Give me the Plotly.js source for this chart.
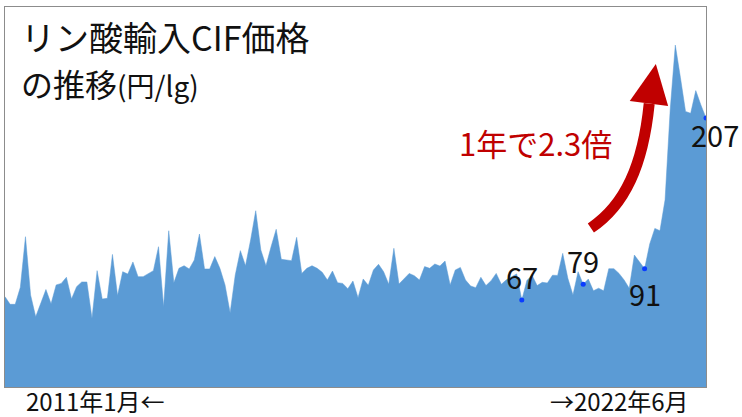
<!DOCTYPE html>
<html><head><meta charset="utf-8">
<script src="https://cdn.plot.ly/plotly-3.0.1.min.js"></script>
<style>html,body{margin:0;padding:0;background:#fff}#chart{width:742px;height:417px}</style>
</head><body><div id="chart"></div>
<script>
// Monthly CIF price of imported phosphoric acid, Jan 2011 .. Jun 2022 (yen/kg)
const prices = [
  69.5, 63.6, 63.6, 76.7, 115.6, 70.8, 54, 64, 75, 64, 78.5, 79.7,        // 2011
  84.4, 67.7, 77.2, 80.8, 80.8, 52.8, 89.5, 67.7, 68.2, 102, 70.3, 88.7,   // 2012
  86.9, 96.2, 84.9, 84.9, 86.9, 89.5, 107.9, 61.8, 120.2, 80.2, 91.3, 93.3, // 2013
  90.8, 97.7, 117.7, 90.8, 90.8, 100.3, 91.3, 78.5, 57.2, 86.2, 104.9, 93.3, // 2014
  113.1, 135.6, 105.4, 93.3, 107.9, 121.3, 98.2, 97.7, 97.2, 115.1, 87.4, 91.3, // 2015
  93.3, 91.3, 88.2, 82.3, 89.2, 80.2, 79.7, 75.6, 81.5, 68.7, 83.1, 78.2,  // 2016
  90, 94.4, 88.7, 79, 106.7, 79.2, 83.1, 87.4, 85.6, 82.3, 92.6, 91.3,     // 2017
  94.6, 93.1, 96.9, 78.5, 90, 92, 82.3, 77.7, 76.4, 84.4, 78, 81.8,        // 2018
  87.4, 79, 82.5, 85, 87, 67, 82, 86, 78, 80.5, 80, 86,                    // 2019
  85.8, 102.8, 83.6, 70.8, 88.7, 79, 83, 74, 76, 74, 91, 91,               // 2020
  87.4, 82.3, 76, 101.5, 96.4, 91, 110, 122, 120.2, 144, 213, 263,        // 2021
  238, 212, 210.5, 228, 217, 207                                           // 2022
];
const monthIndex = prices.map((_, i) => i);
const monthLabels = prices.map((_, i) => (2011 + Math.floor(i / 12)) + '/' + (i % 12 + 1));

// Highlighted June values
const labelIdx = [101, 113, 125, 137];
const labelVals = [67, 79, 91, 207];
const labelShiftX = [0, 0, 0, 9];
const labelShiftY = [24, 24, -24, -16];

const titleLine1 = 'リン酸輸入CIF価格';
const titleLine2 = 'の推移<span style="font-size:28px">(円/lg)</span>';
const growthText = '1年で2.3倍';
const startText = '2011年1月←';
const endText = '→2022年6月';

const FONT = '"Noto Sans CJK JP", "Noto Sans", sans-serif';

const traces = [
  {
    x: monthIndex, y: prices, text: monthLabels,
    type: 'scatter', mode: 'lines', fill: 'tozeroy',
    fillcolor: '#5B9BD5', line: {color: '#5B9BD5', width: 0.5},
    hoverinfo: 'text+y'
  },
  {
    x: labelIdx, y: labelVals, type: 'scatter', mode: 'markers',
    marker: {color: '#0A3CFF', size: 5}, hoverinfo: 'y'
  }
];

const annotations = labelIdx.map((xi, k) => ({
  x: xi, y: labelVals[k], xref: 'x', yref: 'y', text: String(labelVals[k]),
  showarrow: false, xanchor: 'center', yanchor: 'middle',
  xshift: labelShiftX[k], yshift: labelShiftY[k],
  font: {family: FONT, size: 29, color: '#111'}
}));

annotations.push(
  {xref: 'paper', yref: 'paper', x: 15/701, y: (387-36)/380, xanchor: 'left', yanchor: 'middle',
   borderpad: 0, text: titleLine1, showarrow: false, font: {family: FONT, size: 34, color: '#111'}},
  {xref: 'paper', yref: 'paper', x: 15/701, y: (387-83)/380, xanchor: 'left', yanchor: 'middle',
   borderpad: 0, text: titleLine2, showarrow: false, font: {family: FONT, size: 32, color: '#111'}},
  {xref: 'paper', yref: 'paper', x: (535-5)/701, y: (387-142)/380, xanchor: 'center', yanchor: 'middle',
   text: growthText, showarrow: false, font: {family: FONT, size: 31, color: '#C00000'}},
  {xref: 'paper', yref: 'paper', x: (95-5)/701, y: -14/380, xanchor: 'center', yanchor: 'middle',
   borderpad: 0, text: startText, showarrow: false, font: {family: FONT, size: 24, color: '#111'}},
  {xref: 'paper', yref: 'paper', x: (619-5)/701, y: -14/380, xanchor: 'center', yanchor: 'middle',
   borderpad: 0, text: endText, showarrow: false, font: {family: FONT, size: 24, color: '#111'}}
);

// curved growth arrow (data coordinates)
const shapes = [
  {type: 'path', xref: 'x', yref: 'y', layer: 'above',
   path: 'M 114.5,122.3 C 121.2,140 124.7,170.8 125.9,218',
   line: {color: '#C00000', width: 11}, fillcolor: 'rgba(0,0,0,0)'},
  {type: 'path', xref: 'x', yref: 'y', layer: 'above',
   path: 'M 122.1,220 L 129.6,216.2 L 127.2,248.5 Z',
   line: {color: '#C00000', width: 0}, fillcolor: '#C00000'}
];

const layout = {
  width: 742, height: 417,
  margin: {l: 5, r: 36, t: 7, b: 30, pad: 0},
  paper_bgcolor: '#fff', plot_bgcolor: '#fff',
  showlegend: false,
  xaxis: {range: [0, 137], showgrid: false, zeroline: false, showticklabels: false,
          ticks: '', showline: true, mirror: true, linecolor: '#8C8C8C', linewidth: 1.3},
  yaxis: {range: [0, 380/1.3], showgrid: false, zeroline: false, showticklabels: false,
          ticks: '', showline: true, mirror: true, linecolor: '#8C8C8C', linewidth: 1.3},
  annotations: annotations,
  shapes: shapes
};

Plotly.newPlot('chart', traces, layout, {displayModeBar: false, staticPlot: true});
</script>
</body></html>
